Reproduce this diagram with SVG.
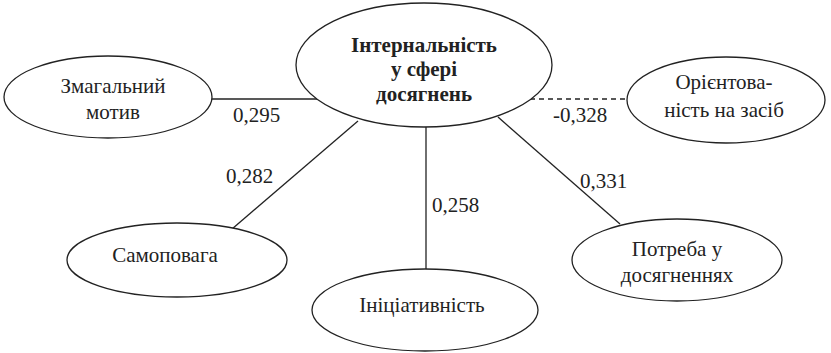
<svg xmlns="http://www.w3.org/2000/svg" width="831" height="353" viewBox="0 0 831 353">
<style>
.n{fill:#fff;stroke:#222;stroke-width:1.3}
.t{font-family:'Liberation Serif','Times New Roman',serif;font-size:21px;fill:#222;text-anchor:middle}
.b{font-weight:bold}
.c{stroke:#222;stroke-width:1.3;fill:none}
.d{stroke-dasharray:5,4}
.l{font-family:'Liberation Serif','Times New Roman',serif;font-size:21px;fill:#222}
</style>
<rect width="831" height="353" fill="#fff"/>
<g id="connectors">
<line class="c" x1="212" y1="99" x2="318" y2="99"/>
<line class="c d" x1="530" y1="99" x2="627" y2="99"/>
<line class="c" x1="358" y1="121" x2="232" y2="229"/>
<line class="c" x1="426" y1="127" x2="426" y2="270"/>
<line class="c" x1="498" y1="117" x2="620" y2="224"/>
<text class="l" x="233" y="122">0,295</text>
<text class="l" x="553" y="122">-0,328</text>
<text class="l" x="226" y="183">0,282</text>
<text class="l" x="432" y="212">0,258</text>
<text class="l" x="580" y="188">0,331</text>
</g>
<g id="center">
<ellipse class="n" cx="424" cy="65" rx="128" ry="62"/>
<text class="t b" x="424" y="52">Інтернальність</text>
<text class="t b" x="424" y="76">у сфері</text>
<text class="t b" x="424" y="101">досягнень</text>
</g>
<g id="zmagalnyi">
<ellipse class="n" cx="108" cy="97" rx="104" ry="41"/>
<text class="t" x="113" y="93">Змагальний</text>
<text class="t" x="113" y="119">мотив</text>
</g>
<g id="orientovanist">
<ellipse class="n" cx="726" cy="100" rx="99" ry="43"/>
<text class="t" x="724" y="89">Орієнтова-</text>
<text class="t" x="724" y="117">ність на засіб</text>
</g>
<g id="samopovaga">
<ellipse class="n" cx="177" cy="260" rx="110" ry="37"/>
<text class="t" x="165" y="262">Самоповага</text>
</g>
<g id="initsiatyvnist">
<ellipse class="n" cx="425" cy="310" rx="113" ry="41"/>
<text class="t" x="422" y="312">Ініціативність</text>
</g>
<g id="potreba">
<ellipse class="n" cx="677" cy="260" rx="105" ry="41"/>
<text class="t" x="677" y="256">Потреба у</text>
<text class="t" x="677" y="282">досягненнях</text>
</g>
</svg>
